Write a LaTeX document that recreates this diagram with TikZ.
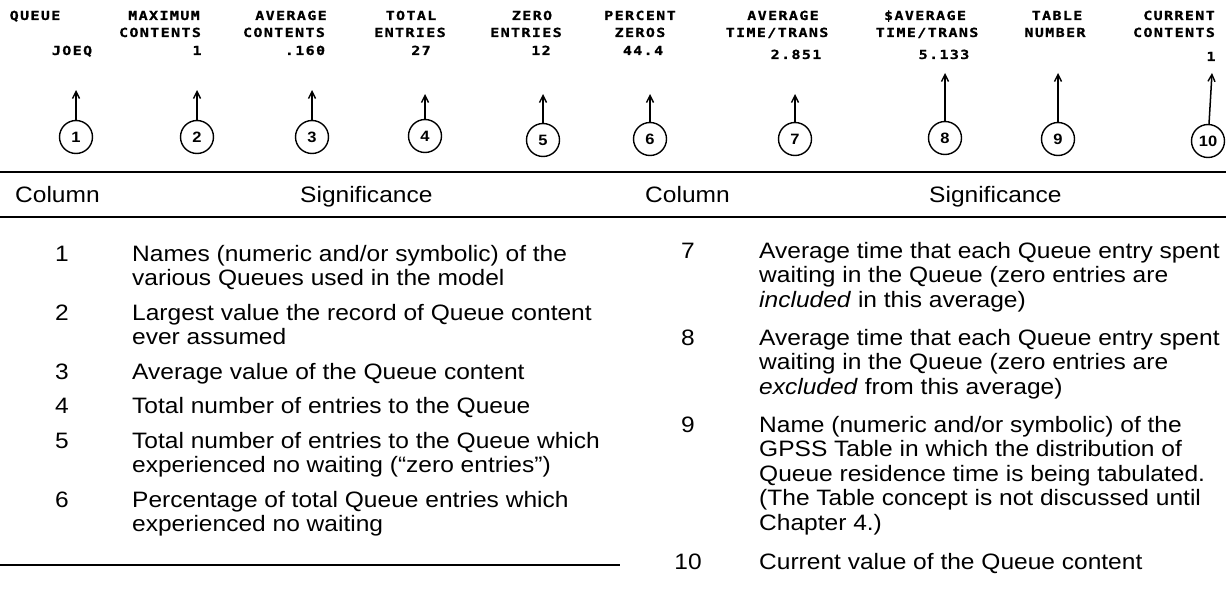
\documentclass[tikz,border=0pt]{standalone}
\usepackage{fontspec}
\setmainfont{Liberation Sans}[FakeStretch=1.1]
\newfontfamily\prt{DejaVu Sans Mono}[FakeStretch=1.2,LetterSpace=11,FakeBold=1]
\usetikzlibrary{arrows.meta}
\tikzset{
  hdr/.style={font=\prt\bfseries\fontsize{12.5}{13}\selectfont, inner sep=0pt, anchor=base},
  numc/.style={circle, draw, line width=1.4pt, minimum size=33pt, inner sep=0pt, font=\bfseries\fontsize{15}{15}\selectfont},
  arr/.style={line width=1.5pt, -{Straight Barb[length=7pt,width=7pt,line width=1.4pt]}},
  rulel/.style={line width=2pt},
  bt/.style={font=\fontsize{22.3}{25}\selectfont, inner sep=0pt, anchor=base west},
  bn/.style={font=\fontsize{22.3}{25}\selectfont, inner sep=0pt, anchor=base},
}
\begin{document}
\begin{tikzpicture}[x=1pt,y=-1pt]
\useasboundingbox (0,0) rectangle (1229,602);
% ---- header labels
\node[hdr] (h1a) at (35,20) {QUEUE};
\node[hdr] (h1c) at (72,55) {JOEQ};
\node[hdr] (h2a) at (164,20) {MAXIMUM};
\node[hdr] (h2b) at (160,37) {CONTENTS};
\node[hdr] (h2c) at (197,55) {1};
\node[hdr] (h3a) at (291,20) {AVERAGE};
\node[hdr] (h3b) at (284,37) {CONTENTS};
\node[hdr] (h3c) at (305,55) {.160};
\node[hdr] (h4a) at (411,20) {TOTAL};
\node[hdr] (h4b) at (410,37) {ENTRIES};
\node[hdr] (h4c) at (421,55) {27};
\node[hdr] (h5a) at (532,20) {ZERO};
\node[hdr] (h5b) at (526,37) {ENTRIES};
\node[hdr] (h5c) at (541,55) {12};
\node[hdr] (h6a) at (640,20) {PERCENT};
\node[hdr] (h6b) at (640,37) {ZEROS};
\node[hdr] (h6c) at (643,55) {44.4};
\node[hdr] (h7a) at (783,20) {AVERAGE};
\node[hdr] (h7b) at (777,37) {TIME/TRANS};
\node[hdr] (h7c) at (796,59) {2.851};
\node[hdr] (h8a) at (925,20) {\$AVERAGE};
\node[hdr] (h8b) at (927,37) {TIME/TRANS};
\node[hdr] (h8c) at (944,59) {5.133};
\node[hdr] (h9a) at (1057,20) {TABLE};
\node[hdr] (h9b) at (1055,37) {NUMBER};
\node[hdr] (h10a) at (1179,20) {CURRENT};
\node[hdr] (h10b) at (1174,37) {CONTENTS};
\node[hdr] (h10c) at (1211,61) {1};
% ---- circles
\node[numc] (c1) at (76,137) {1};
\node[numc] (c2) at (197,137) {2};
\node[numc] (c3) at (312,137) {3};
\node[numc] (c4) at (425,136) {4};
\node[numc] (c5) at (543,140) {5};
\node[numc] (c6) at (650,139) {6};
\node[numc] (c7) at (795,139) {7};
\node[numc] (c8) at (945,138) {8};
\node[numc] (c9) at (1058,139) {9};
\node[numc] (c10) at (1208,141) {10};
% ---- arrow tips
\coordinate (t1) at (76,90);
\coordinate (t2) at (197,90);
\coordinate (t3) at (312,90);
\coordinate (t4) at (425,94);
\coordinate (t5) at (543,94);
\coordinate (t6) at (650,94);
\coordinate (t7) at (795,94);
\coordinate (t8) at (945,73);
\coordinate (t9) at (1058,73);
\coordinate (t10) at (1212,73);
\foreach \i in {1,...,10} {\draw[arr] (c\i) -- (t\i);}
% ---- rules
\draw[rulel] (0,172) -- (1226,172);
\draw[rulel] (0,217) -- (1226,217);
\draw[rulel] (0,565) -- (620,565);
% ---- table header
\node[bt] (colA) at (15,202) {Column};
\node[bt] (sigA) at (300,202) {Significance};
\node[bt] (colB) at (645,202) {Column};
\node[bt] (sigB) at (929,202) {Significance};
% ---- left column
\node[bn] (n1) at (62,261) {1};
\node[bt] (d1a) at (132,261) {Names (numeric and/or symbolic) of the};
\node[bt] (d1b) at (132,285.5) {various Queues used in the model};
\node[bn] (n2) at (62,320) {2};
\node[bt] (d2a) at (132,320) {Largest value the record of Queue content};
\node[bt] (d2b) at (132,344.5) {ever assumed};
\node[bn] (n3) at (62,379) {3};
\node[bt] (d3a) at (132,379) {Average value of the Queue content};
\node[bn] (n4) at (62,413.5) {4};
\node[bt] (d4a) at (132,413.5) {Total number of entries to the Queue};
\node[bn] (n5) at (62,448) {5};
\node[bt] (d5a) at (132,448) {Total number of entries to the Queue which};
\node[bt] (d5b) at (132,472.5) {experienced no waiting (“zero entries”)};
\node[bn] (n6) at (62,507) {6};
\node[bt] (d6a) at (132,507) {Percentage of total Queue entries which};
\node[bt] (d6b) at (132,531.5) {experienced no waiting};
% ---- right column
\node[bn] (n7) at (688,258) {7};
\node[bt] (d7a) at (759,258) {Average time that each Queue entry spent};
\node[bt] (d7b) at (759,282.5) {waiting in the Queue (zero entries are};
\node[bt] (d7c) at (759,307) {\textit{included} in this average)};
\node[bn] (n8) at (688,345) {8};
\node[bt] (d8a) at (759,345) {Average time that each Queue entry spent};
\node[bt] (d8b) at (759,369.5) {waiting in the Queue (zero entries are};
\node[bt] (d8c) at (759,394) {\textit{excluded} from this average)};
\node[bn] (n9) at (688,432) {9};
\node[bt] (d9a) at (759,432) {Name (numeric and/or symbolic) of the};
\node[bt] (d9b) at (759,456.5) {GPSS Table in which the distribution of};
\node[bt] (d9c) at (759,481) {Queue residence time is being tabulated.};
\node[bt] (d9d) at (759,505.5) {(The Table concept is not discussed until};
\node[bt] (d9e) at (759,530) {Chapter 4.)};
\node[bn] (n10) at (688,569) {10};
\node[bt] (d10a) at (759,569) {Current value of the Queue content};
\end{tikzpicture}
\end{document}
